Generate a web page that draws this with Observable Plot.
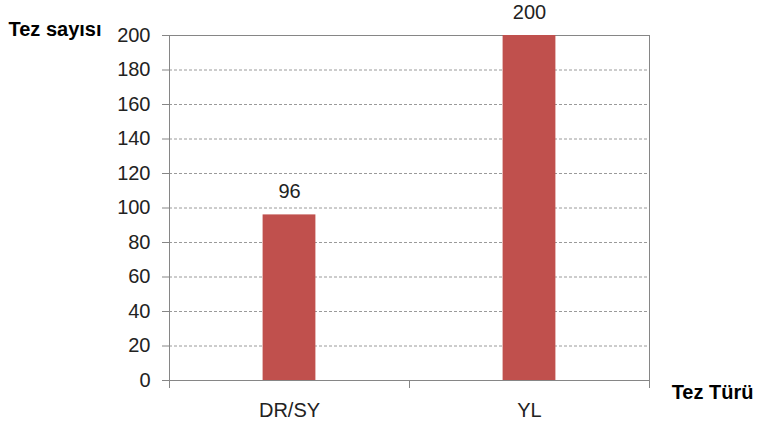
<!DOCTYPE html>
<html><head><meta charset="utf-8">
<script src="https://cdn.jsdelivr.net/npm/d3@7"></script>
<script src="https://cdn.jsdelivr.net/npm/@observablehq/plot@0.6"></script>
<style>body{margin:0;background:#fff}</style>
</head><body><div id="chart"></div>
<script>
const categories = ["DR/SY", "YL"];
const values = [96, 200];
const yTicks = [0, 20, 40, 60, 80, 100, 120, 140, 160, 180, 200];
const yTitle = "Tez sayısı";
const xTitle = "Tez Türü";

const data = categories.map((c, i) => ({cat: c, i, value: values[i]}));
const half = 0.11;
const font = "Liberation Sans, Arial, sans-serif";

const chart = Plot.plot({
  width: 762, height: 426,
  marginLeft: 169, marginRight: 113, marginTop: 35, marginBottom: 46,
  style: {fontFamily: font, fontSize: "20px", color: "#222", background: "#fff"},
  x: {type: "linear", domain: [0, categories.length], axis: null},
  y: {domain: [0, 200], axis: null},
  marks: [
    Plot.ruleY(yTicks.filter(t => t > 0 && t < 200), {stroke: "#9a9a9a", strokeDasharray: "3,2", strokeWidth: 1}),
    Plot.frame({stroke: "#868686", strokeWidth: 1}),
    Plot.rectY(data, {x1: d => d.i + 0.5 - half, x2: d => d.i + 0.5 + half, y1: 0, y2: "value", fill: "#c0504d"}),
    Plot.text(data, {x: d => d.i + 0.5, y: "value", text: d => String(d.value), dy: -23, fontSize: 20, fill: "#222"}),
    Plot.axisY({ticks: yTicks, tickSize: 7, tickPadding: 12, stroke: "#868686", fontSize: 20, fill: "#222", label: null}),
    Plot.axisX({ticks: d3.range(categories.length + 1), tickFormat: () => "", tickSize: 8, stroke: "#868686", label: null}),
    Plot.text(data, {x: d => d.i + 0.5, y: 0, text: "cat", dy: 30, fontSize: 20, fill: "#222"}),
    Plot.text([yTitle], {frameAnchor: "top-left", text: d => d, dx: -161, dy: -14, fontWeight: "bold", fontSize: 20, fill: "#000", textAnchor: "start"}),
    Plot.text([xTitle], {frameAnchor: "bottom-right", text: d => d, dx: 104, dy: 18, fontWeight: "bold", fontSize: 20, fill: "#000", textAnchor: "end"})
  ]
});
document.getElementById("chart").append(chart);
</script>
</body></html>
